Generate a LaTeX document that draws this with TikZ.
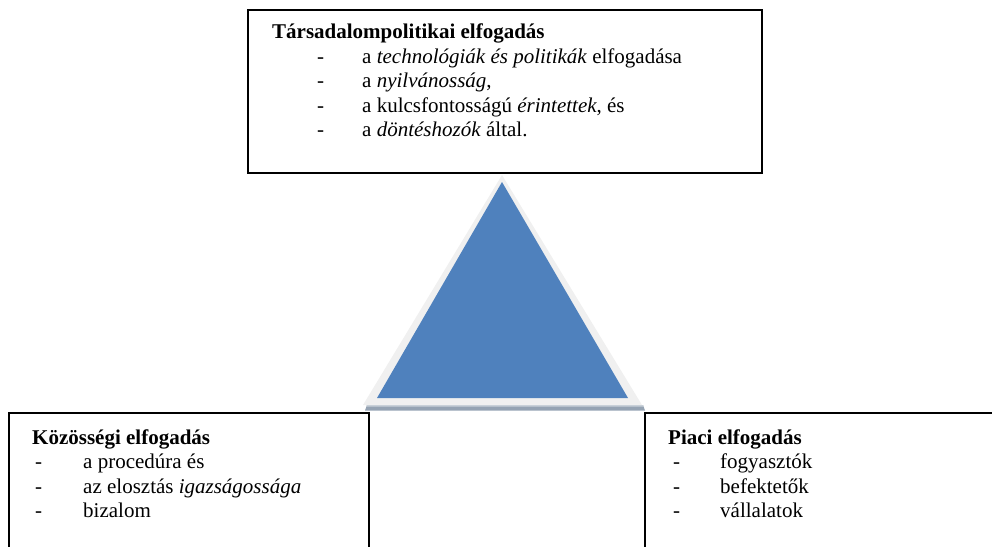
\documentclass[tikz,border=0pt]{standalone}
\usepackage{fontspec}
\setmainfont{Liberation Serif}
\begin{document}
\begin{tikzpicture}[x=1pt,y=-1pt,
  boxline/.style={draw=black,line width=1.6pt},
  txt/.style={anchor=base west,inner sep=0pt,font=\fontsize{21}{25}\selectfont},
  ttl/.style={txt,font=\fontsize{21}{25}\selectfont\bfseries}]
\useasboundingbox (0,0) rectangle (992,546);
\begin{scope}
\clip (0,0) rectangle (992,546);
% triangle
\fill[color={rgb,255:red,240;green,240;blue,240}] (502,175) -- (642,405) -- (363,405) -- cycle;
\fill[color={rgb,255:red,149;green,163;blue,179}] (367,405) -- (643,405) -- (645,410.5) -- (365,410.5) -- cycle;
\fill[color={rgb,255:red,200;green,208;blue,216}] (367,405) -- (643,405) -- (643.5,406.5) -- (366.5,406.5) -- cycle;
\fill[color={rgb,255:red,79;green,129;blue,189}] (502,182) -- (628,398) -- (377,398) -- cycle;
% boxes
\draw[boxline] (248,10) rectangle (762,173);
\draw[boxline] (9,413) rectangle (369,560);
\draw[boxline] (645,413) rectangle (1000,560);
\end{scope}
% top box text
\node[ttl] (t0) at (272,38.5) {Társadalompolitikai elfogadás};
\node[txt] (t1d) at (317,63) {-};
\node[txt] (t1) at (362,63) {a \textit{technológiák és politikák} elfogadása};
\node[txt] (t2d) at (317,87.5) {-};
\node[txt] (t2) at (362,87.5) {a \textit{nyilvánosság},};
\node[txt] (t3d) at (317,112) {-};
\node[txt] (t3) at (362,112) {a kulcsfontosságú \textit{érintettek}, és};
\node[txt] (t4d) at (317,136.5) {-};
\node[txt] (t4) at (362,136.5) {a \textit{döntéshozók} által.};
% left box text
\node[ttl] (l0) at (32,444) {Közösségi elfogadás};
\node[txt] (l1d) at (35,468.5) {-};
\node[txt] (l1) at (83,468.5) {a procedúra és};
\node[txt] (l2d) at (35,493) {-};
\node[txt] (l2) at (83,493) {az elosztás \textit{igazságossága}};
\node[txt] (l3d) at (35,517.5) {-};
\node[txt] (l3) at (83,517.5) {bizalom};
% right box text
\node[ttl] (r0) at (668,444) {Piaci elfogadás};
\node[txt] (r1d) at (673,468.5) {-};
\node[txt] (r1) at (720,468.5) {fogyasztók};
\node[txt] (r2d) at (673,493) {-};
\node[txt] (r2) at (720,493) {befektetők};
\node[txt] (r3d) at (673,517.5) {-};
\node[txt] (r3) at (720,517.5) {vállalatok};
\end{tikzpicture}
\end{document}
